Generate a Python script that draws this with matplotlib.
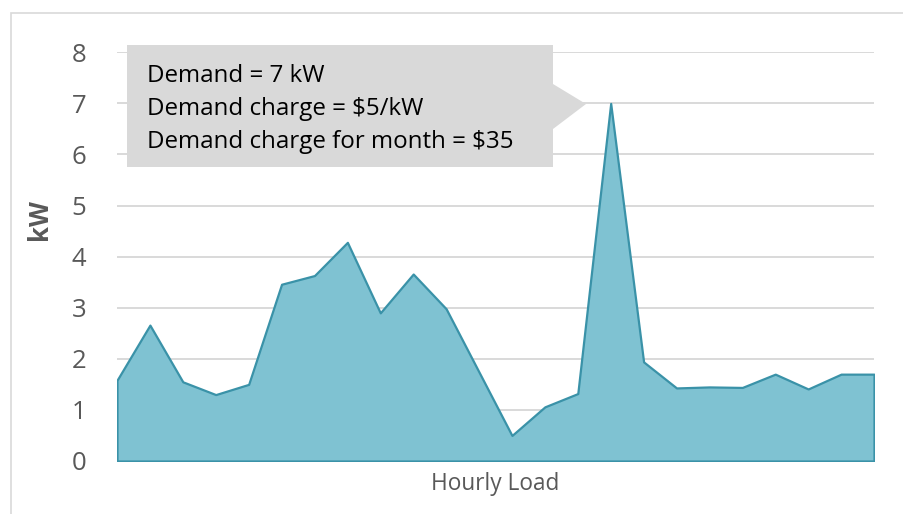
import numpy as np
import matplotlib
matplotlib.use("Agg")
from matplotlib import pyplot as plt
from matplotlib.patches import Polygon, Rectangle

# hourly load readings (kW), one per hour
hours = np.arange(24)
load_kw = [1.58, 2.66, 1.55, 1.30, 1.50, 3.46, 3.63, 4.28, 2.90, 3.66, 2.98, 1.74,
           0.50, 1.06, 1.32, 7.00, 1.94, 1.43, 1.45, 1.44, 1.70, 1.41, 1.70, 1.70]
y_ticks = [0, 1, 2, 3, 4, 5, 6, 7, 8]
note_lines = ["Demand = 7 kW", "Demand charge = $5/kW", "Demand charge for month = $35"]

W, H = 904, 514
plt.rcParams["font.family"] = ["Open Sans", "DejaVu Sans"]

fig = plt.figure(figsize=(W / 100, H / 100), dpi=100)
ax = fig.add_axes([117 / W, 1 - 461 / H, (874 - 117) / W, (461 - 52.3) / H])

# the area itself, outlined all round
ax.fill_between(hours, load_kw, 0, facecolor="#7fc2d2", edgecolor="#3a92a8",
                linewidth=1.6, zorder=3)

ax.set_xlim(hours[0], hours[-1])
ax.set_ylim(y_ticks[0], y_ticks[-1])
ax.set_yticks(y_ticks)
ax.set_xticks([])
ax.grid(axis="y", color="#d9d9d9", linewidth=1.4)
ax.set_axisbelow(True)
for s in ax.spines.values():
    s.set_visible(False)
ax.tick_params(axis="y", length=0, pad=22, labelsize=18.5, labelcolor="#595959")

ax.set_xlabel("Hourly Load", fontsize=16.3, color="#595959", labelpad=8)
ax.set_ylabel("kW", fontsize=18.5, fontweight="bold", color="#595959")
ax.yaxis.set_label_coords(-0.085, 0.59)


def fpt(px, py):
    # pixel position (from top-left) -> figure fraction
    return (px / W, 1 - py / H)


# callout box with a notch pointing at the peak
callout = [fpt(127, 45), fpt(553, 45), fpt(553, 84), fpt(586, 104), fpt(553, 129),
           fpt(553, 167), fpt(127, 167)]
fig.patches.append(Polygon(callout, closed=True, transform=fig.transFigure,
                           facecolor="#d9d9d9", edgecolor="none", zorder=5))
for i, line in enumerate(note_lines):
    x, y = fpt(147, 82 + 33 * i)
    fig.text(x, y, line, fontsize=17.4, color="black", va="baseline", ha="left",
             zorder=6)

# light frame of the chart area
fig.patches.append(Rectangle(fpt(11, 600), 2, (600 - 12.5) / H,
                             transform=fig.transFigure, fill=False,
                             edgecolor="#d9d9d9", linewidth=1.2))

fig.savefig("out.png", dpi=100)
